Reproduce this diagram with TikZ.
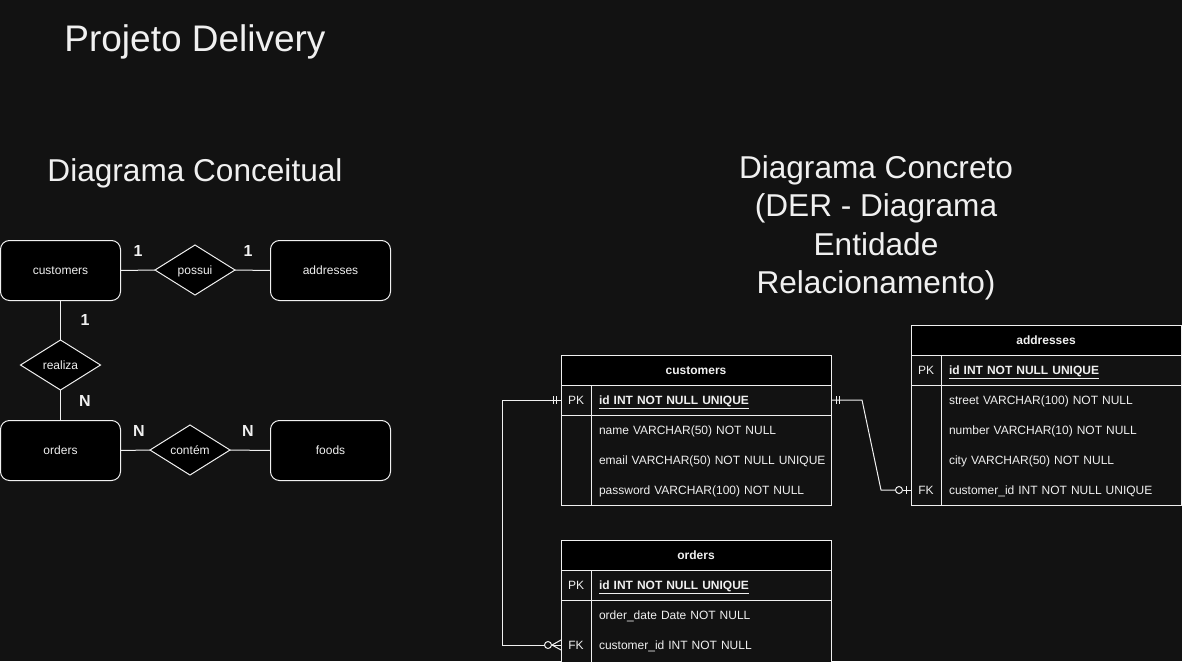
\documentclass[tikz,border=0pt]{standalone}
\usepackage{fontspec}
\setmainfont{Liberation Sans}
\usetikzlibrary{shapes.geometric,calc}
\definecolor{bg}{HTML}{121212}
\definecolor{fg}{HTML}{F0F0F0}
\newcommand{\tabfont}{\fontsize{12}{14}\selectfont}
\begin{document}
\begin{tikzpicture}[x=1pt,y=-1pt,line width=1pt,
  ent/.style={draw=fg,fill=black,rounded corners=9pt,minimum width=120pt,minimum height=60pt,inner sep=0pt,outer sep=0pt,text=fg,font=\tabfont,text height=8.6pt,text depth=0pt},
  rel/.style={diamond,draw=fg,fill=black,minimum width=80pt,minimum height=50pt,inner sep=0pt,outer sep=0pt,text=fg,font=\tabfont,text height=8.6pt,text depth=0pt},
  card/.style={text=fg,font=\fontsize{16}{19}\selectfont\bfseries,inner sep=0pt,text height=11.5pt,text depth=0pt},
  conn/.style={draw=fg,line width=1pt},
  hdr/.style={draw=fg,fill=black,minimum width=270pt,minimum height=30pt,inner sep=0pt,outer sep=0pt,text=fg,font=\tabfont\bfseries,text height=8.6pt,text depth=0pt},
  body/.style={draw=fg,fill=bg},
  key/.style={minimum width=30pt,minimum height=30pt,inner sep=0pt,outer sep=0pt,text=fg,font=\tabfont,text height=8.6pt,text depth=0pt},
  fld/.style={anchor=west,minimum height=30pt,text width=224pt,inner xsep=8pt,inner ysep=0pt,outer sep=0pt,align=left,text=fg,font=\tabfont,text height=8.6pt,text depth=0pt},
  pkfld/.style={fld,font=\tabfont\bfseries},
  ttl/.style={text=fg,inner sep=0pt}
]
\useasboundingbox[fill=bg] (0,0) rectangle (1182,661);

% titles
\node[ttl,font=\fontsize{37}{44}\selectfont,anchor=base] (title) at (195,52) {Projeto Delivery};
\node[ttl,font=\fontsize{31.6}{38}\selectfont,anchor=base] (tconc) at (195,181) {Diagrama Conceitual};
\node[ttl,font=\fontsize{31.6}{38.4}\selectfont,anchor=north,align=center] (tder) at (876,155) {Diagrama Concreto\\(DER - Diagrama\\Entidade\\Relacionamento)};

% conceptual diagram
\node[ent] (ecust) at (60.5,270.5) {customers};
\node[ent] (eaddr) at (330.5,270.5) {addresses};
\node[ent] (eord) at (60.5,450.5) {orders};
\node[ent] (efood) at (330.5,450.5) {foods};
\node[rel] (rpossui) at (195,270) {possui};
\node[rel] (rrealiza) at (60.5,365) {realiza};
\node[rel] (rcontem) at (190,450) {contém};
\draw[conn] (ecust.east) -- (rpossui.west);
\draw[conn] (rpossui.east) -- (eaddr.west);
\draw[conn] (ecust.south) -- (rrealiza.north);
\draw[conn] (rrealiza.south) -- (eord.north);
\draw[conn] (eord.east) -- (rcontem.west);
\draw[conn] (rcontem.east) -- (efood.west);
\node[card] (c1) at (138,251) {1};
\node[card] (c2) at (248,251) {1};
\node[card] (c3) at (85,320) {1};
\node[card] (c4) at (85,400.5) {N};
\node[card] (c5) at (139,430.5) {N};
\node[card] (c6) at (248,430.5) {N};

% table customers
\node[hdr] (tcust) at (696,370) {customers};
\draw[body] (561,385) rectangle (831,505);
\draw[draw=fg] (561,415) -- (831,415);
\draw[draw=fg] (591,385) -- (591,505);
\node[key] (cpkk) at (576,400) {PK};
\node[pkfld] (cpk) at (591,400) {\mbox{\underline{id INT NOT NULL UNIQUE}}};
\node[fld] (cname) at (591,430) {\mbox{name VARCHAR(50) NOT NULL}};
\node[fld] (cemail) at (591,460) {\mbox{email VARCHAR(50) NOT NULL UNIQUE}};
\node[fld] (cpass) at (591,490) {\mbox{password VARCHAR(100) NOT NULL}};

% table addresses
\node[hdr] (taddr) at (1046,340) {addresses};
\draw[body] (911,355) rectangle (1181,505);
\draw[draw=fg] (911,385) -- (1181,385);
\draw[draw=fg] (941,355) -- (941,505);
\node[key] (apkk) at (926,370) {PK};
\node[pkfld] (apk) at (941,370) {\mbox{\underline{id INT NOT NULL UNIQUE}}};
\node[fld] (astreet) at (941,400) {\mbox{street VARCHAR(100) NOT NULL}};
\node[fld] (anum) at (941,430) {\mbox{number VARCHAR(10) NOT NULL}};
\node[fld] (acity) at (941,460) {\mbox{city VARCHAR(50) NOT NULL}};
\node[key] (afkk) at (926,490) {FK};
\node[fld] (afk) at (941,490) {\mbox{customer\_id INT NOT NULL UNIQUE}};

% table orders
\node[hdr] (tord) at (696,555) {orders};
\draw[body] (561,570) rectangle (831,662);
\draw[draw=fg] (561,600) -- (831,600);
\draw[draw=fg] (591,570) -- (591,662);
\node[key] (opkk) at (576,585) {PK};
\node[pkfld] (opk) at (591,585) {\mbox{\underline{id INT NOT NULL UNIQUE}}};
\node[fld] (odate) at (591,615) {\mbox{order\_date Date NOT NULL}};
\node[key] (ofkk) at (576,645) {FK};
\node[fld] (ofk) at (591,645) {\mbox{customer\_id INT NOT NULL}};

% relation customers -> addresses (one to zero-or-one)
\draw[conn] (cpk.east) -- ++(31,0) -- ($(afkk.west)+(-30,0)$) -- ($(afkk.west)+(-15.5,0)$);
\draw[conn] ($(cpk.east)+(5,-4)$) -- ++(0,8);
\draw[conn] ($(cpk.east)+(8,-4)$) -- ++(0,8);
\draw[conn] ($(afkk.west)+(-12,0)$) circle (3.5pt);
\draw[conn] ($(afkk.west)+(-8.5,0)$) -- (afkk.west);
\draw[conn] ($(afkk.west)+(-5,-4)$) -- ++(0,8);

% relation customers -> orders (one to zero-or-many)
\draw[conn] (cpkk.west) -- ++(-59,0) |- ($(ofkk.west)+(-16.5,0)$);
\draw[conn] ($(cpkk.west)+(-5,-4)$) -- ++(0,8);
\draw[conn] ($(cpkk.west)+(-8,-4)$) -- ++(0,8);
\draw[conn] ($(ofkk.west)+(-13,0)$) circle (3.5pt);
\draw[conn] ($(ofkk.west)+(-9.5,0)$) -- (ofkk.west);
\draw[conn] ($(ofkk.west)+(-9,0)$) -- ($(ofkk.west)+(0,-5)$);
\draw[conn] ($(ofkk.west)+(-9,0)$) -- ($(ofkk.west)+(0,5)$);
\end{tikzpicture}
\end{document}
